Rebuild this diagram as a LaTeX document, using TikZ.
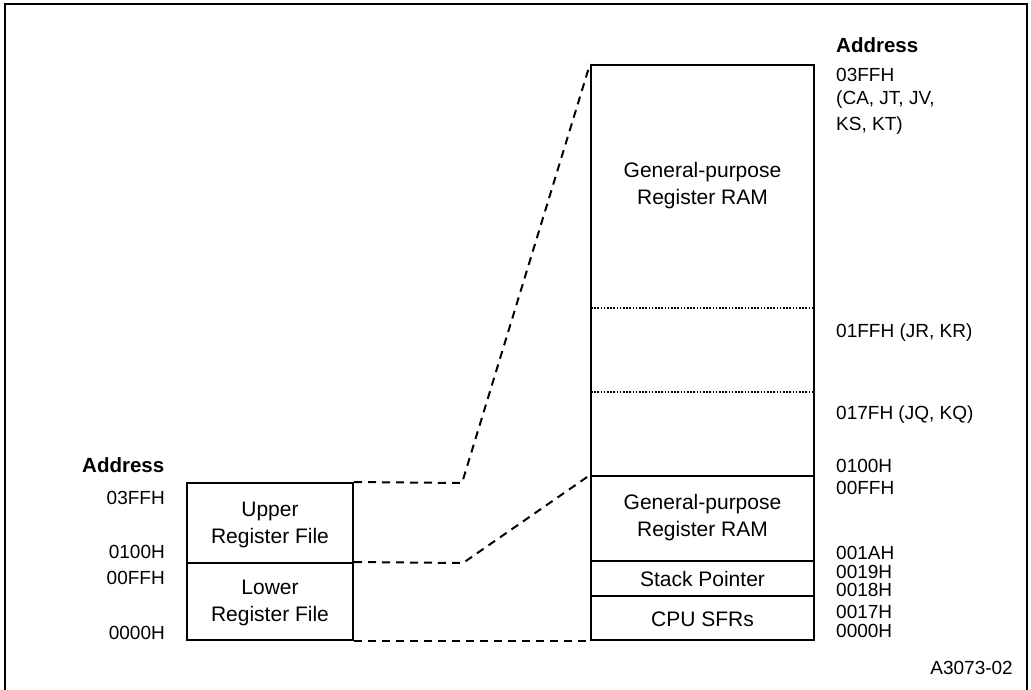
\documentclass[tikz,border=0pt]{standalone}
\usepackage{fontspec}
\setmainfont{Liberation Sans}
\begin{document}
\begin{tikzpicture}[x=1pt,y=-1pt,
  box/.style={draw,line width=2pt,rectangle,inner sep=0pt},
  boxtext/.style={align=center,font=\fontsize{21}{27}\selectfont,inner sep=0pt},
  addr/.style={font=\fontsize{19}{26}\selectfont,inner sep=0pt},
  head/.style={font=\fontsize{20.5}{26}\selectfont\bfseries,inner sep=0pt,anchor=west},
  conn/.style={line width=2pt,dash pattern=on 8pt off 6pt},
  dots/.style={line width=1.6pt,dash pattern=on 1.6pt off 1.6pt}]
\useasboundingbox (0,0) rectangle (1031,689);
\draw[line width=1.6pt] (5,4) rectangle (1027,695);
% left boxes
\node[box,minimum width=166pt,minimum height=80pt] (upper) at (270,523) {};
\node[box,minimum width=166pt,minimum height=77pt] (lower) at (270,601.5) {};
\node[boxtext] (uppert) at (270,525) {Upper\\Register File};
\node[boxtext] (lowert) at (270,603) {Lower\\Register File};
% right boxes
\node[box,minimum width=223pt,minimum height=411pt] (gpr) at (702.5,270.5) {};
\node[box,minimum width=223pt,minimum height=85pt] (gprl) at (702.5,518.5) {};
\node[box,minimum width=223pt,minimum height=35pt] (sp) at (702.5,578.5) {};
\node[box,minimum width=223pt,minimum height=44pt] (cpu) at (702.5,618) {};
\node[boxtext] (gprt) at (702.5,186) {General-purpose\\Register RAM};
\node[boxtext] (gprlt) at (702.5,518) {General-purpose\\Register RAM};
\node[boxtext] (spt) at (702.5,579) {Stack Pointer};
\node[boxtext] (cput) at (702.5,619) {CPU SFRs};
% dotted lines
\coordinate (d1l) at (591,308); \coordinate (d1r) at (814,308);
\coordinate (d2l) at (591,392); \coordinate (d2r) at (814,392);
\draw[dots] (d1l) -- (d1r);
\draw[dots] (d2l) -- (d2r);
% connectors
\coordinate (k1) at (462,483);
\coordinate (k2) at (463,563);
\draw[conn] (upper.north east) -- (k1) -- (gpr.north west);
\draw[conn] (lower.north east) -- (k2) -- (gprl.north west);
\draw[conn] (lower.south east) -- (cpu.south west);
% left addresses
\node[head] (lhead) at (82,465) {Address};
\node[addr,anchor=east] (l1) at (165,498) {03FFH};
\node[addr,anchor=east] (l2) at (165,552) {0100H};
\node[addr,anchor=east] (l3) at (165,578) {00FFH};
\node[addr,anchor=east] (l4) at (165,633) {0000H};
% right addresses
\node[head] (rhead) at (836,45) {Address};
\node[addr,anchor=west] (r1) at (836,75) {03FFH};
\node[addr,anchor=west] (r2) at (836,100) {(CA, JT, JV,};
\node[addr,anchor=west] (r3) at (836,126) {KS, KT)};
\node[addr,anchor=west] (r4) at (836,333) {01FFH (JR, KR)};
\node[addr,anchor=west] (r5) at (836,415) {017FH (JQ, KQ)};
\node[addr,anchor=west] (r6) at (836,466) {0100H};
\node[addr,anchor=west] (r7) at (836,488) {00FFH};
\node[addr,anchor=west] (r8) at (836,553) {001AH};
\node[addr,anchor=west] (r9) at (836,572) {0019H};
\node[addr,anchor=west] (r10) at (836,590) {0018H};
\node[addr,anchor=west] (r11) at (836,612) {0017H};
\node[addr,anchor=west] (r12) at (836,631) {0000H};
\node[addr,anchor=east] (fig) at (1013,668) {A3073-02};
\end{tikzpicture}
\end{document}
